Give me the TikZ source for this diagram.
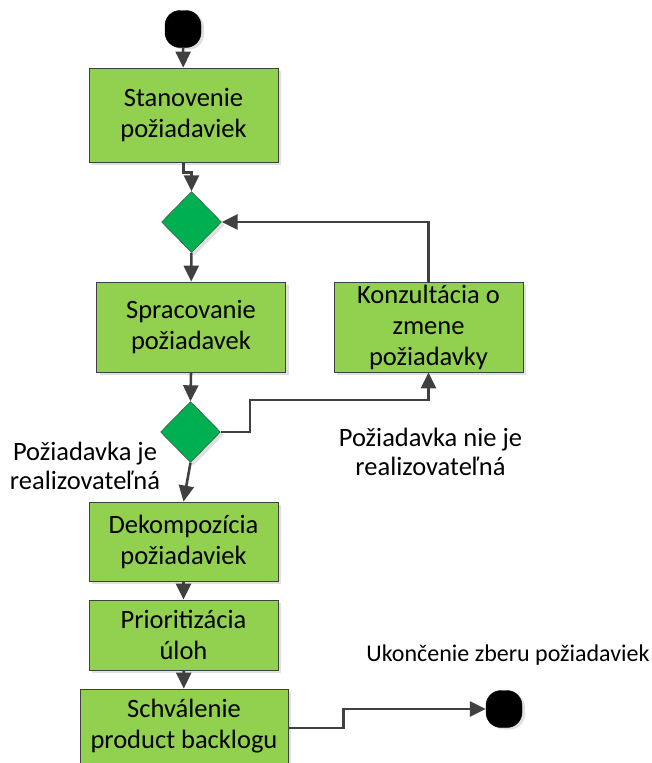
\documentclass[tikz,border=0pt]{standalone}
\usepackage{fontspec}
\setmainfont{Carlito}
\usetikzlibrary{arrows.meta,shapes.geometric,shadows}
\definecolor{boxgreen}{RGB}{146,208,80}
\definecolor{decgreen}{RGB}{0,176,80}
\definecolor{linegray}{RGB}{64,64,64}

\begin{document}
\begin{tikzpicture}[x=1pt,y=-1pt]
\tikzstyle{block} = [rectangle, draw=linegray, thick, fill=boxgreen,
align=center, inner sep=0pt, minimum width=189pt,
font=\fontsize{26.5}{31}\selectfont,
drop shadow={shadow xshift=3pt, shadow yshift=-3pt, fill=black!12, opacity=1}]
\tikzstyle{decision} = [diamond, draw=linegray, thin, fill=decgreen, inner sep=0pt,
minimum width=60pt, minimum height=61pt,
drop shadow={shadow xshift=3pt, shadow yshift=-3pt, fill=black!12, opacity=1}]
\tikzstyle{terminal} = [rectangle, rounded corners=15pt, fill=black, draw=black,
minimum width=36pt, minimum height=37pt,
drop shadow={shadow xshift=3pt, shadow yshift=-2pt, fill=black!12, opacity=1}]
\tikzstyle{label} = [align=center, font=\fontsize{26.5}{29.5}\selectfont]
\tikzstyle{line} = [draw=linegray, line width=2.6pt, -{Triangle[length=16pt,width=15pt]}]
\useasboundingbox (0,0) rectangle (652,763);
% left column
\node [terminal] (zaciatok) at (183,29) {};
\node [block, minimum height=94pt] (stanovenie) at (183.5,115) {Stanovenie\\požiadaviek};
\node [decision] (rozhod1) at (191.5,222) {};
\node [block, minimum height=90pt] (spracovanie) at (191,327) {Spracovanie\\požiadavek};
\node [decision] (rozhod2) at (190.5,432) {};
\node [block, minimum height=79pt] (dekompozicia) at (183.5,541.5) {Dekompozícia\\požiadaviek};
\node [block, minimum height=70pt] (prioritizacia) at (183.5,635) {Prioritizácia\\úloh};
\node [block, minimum width=208pt, minimum height=74pt] (schvalenie) at (184,726) {Schválenie\\product backlogu};
% right side
\node [block, minimum height=90pt] (konzultacia) at (428.5,327) {Konzultácia o\\zmene\\požiadavky};
\node [terminal] (koniec) at (504,709) {};
% labels
\node [label] (realizovatelna) at (85,466) {Požiadavka je\\realizovateľná};
\node [label] (nerealizovatelna) at (430.5,452) {Požiadavka nie je\\realizovateľná};
\node [label, font=\fontsize{24}{29}\selectfont] (ukoncenie) at (508,655) {Ukončenie zberu požiadaviek};
\coordinate (zlom) at (250,400);
% connectors
\path [line] (zaciatok) -- (stanovenie);
\path [line] (stanovenie.south) -- ([yshift=-10pt]stanovenie.south) -| (rozhod1.north);
\path [line] (rozhod1) -- (spracovanie);
\path [line] (spracovanie.south) -- (rozhod2.north);
\path [line] (rozhod2.south) -- (dekompozicia.north);
\path [line] (rozhod2.east) -| (zlom) -| (konzultacia.south);
\path [line] (konzultacia.north) |- (rozhod1.east);
\path [line] (dekompozicia) -- (prioritizacia);
\path [line] (prioritizacia) -- (schvalenie);
\path [line] ([yshift=-2pt]schvalenie.east) -- ++(55,0) |- (koniec.west);
\end{tikzpicture}
\end{document}
